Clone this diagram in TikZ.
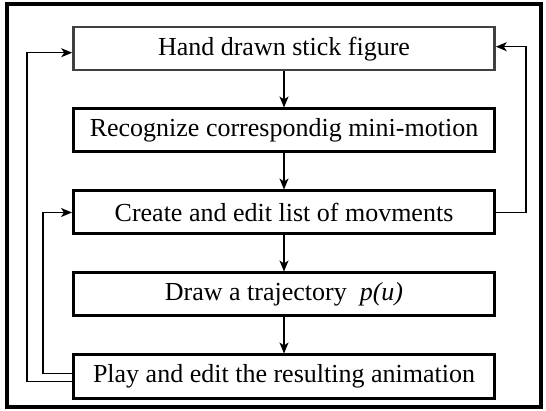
\documentclass[tikz,border=0pt]{standalone}
\usepackage{fontspec}
\setmainfont{Liberation Serif}
\usetikzlibrary{arrows.meta,positioning}

\begin{document}
\begin{tikzpicture}[
    x=1pt, y=-1pt,
    node distance=36pt,
    box/.style={draw, line width=3pt, minimum width=421pt, minimum height=43pt, inner sep=0pt, align=center, font=\fontsize{26}{30}\selectfont},
    arr/.style={-{Stealth[length=11pt, width=9pt, inset=3pt]}, line width=1.2pt},
]
\useasboundingbox (0,0) rectangle (546,411);
% Frame
\draw[line width=3.5pt] (7,4) rectangle (541,407);

% Boxes
\node[box, draw=black!75, line width=2.6pt] (hand) at (284,48.7) {Hand drawn stick figure};
\node[box, below=of hand] (recog) {Recognize correspondig mini-motion};
\node[box, below=of recog] (edit) {Create and edit list of movments};
\node[box, below=of edit] (traj) {Draw a trajectory \ \textit{p(u)}};
\node[box, below=of traj] (play) {Play and edit the resulting animation};

% Arrows
\draw[arr] (hand) -- (recog);
\draw[arr] (recog) -- (edit);
\draw[arr] (edit) -- (traj);
\draw[arr] (traj) -- (play);
\draw[arr] ([yshift=-5pt]play.west) -- ++(-45pt,0) |- ([yshift=-4pt]hand.west);
\draw[arr] ([yshift=3pt]play.west) -- ++(-29pt,0) |- (edit.west);
\draw[arr] (edit.east) -- ++(30pt,0) |- ([yshift=2pt]hand.east);
\end{tikzpicture}
\end{document}
